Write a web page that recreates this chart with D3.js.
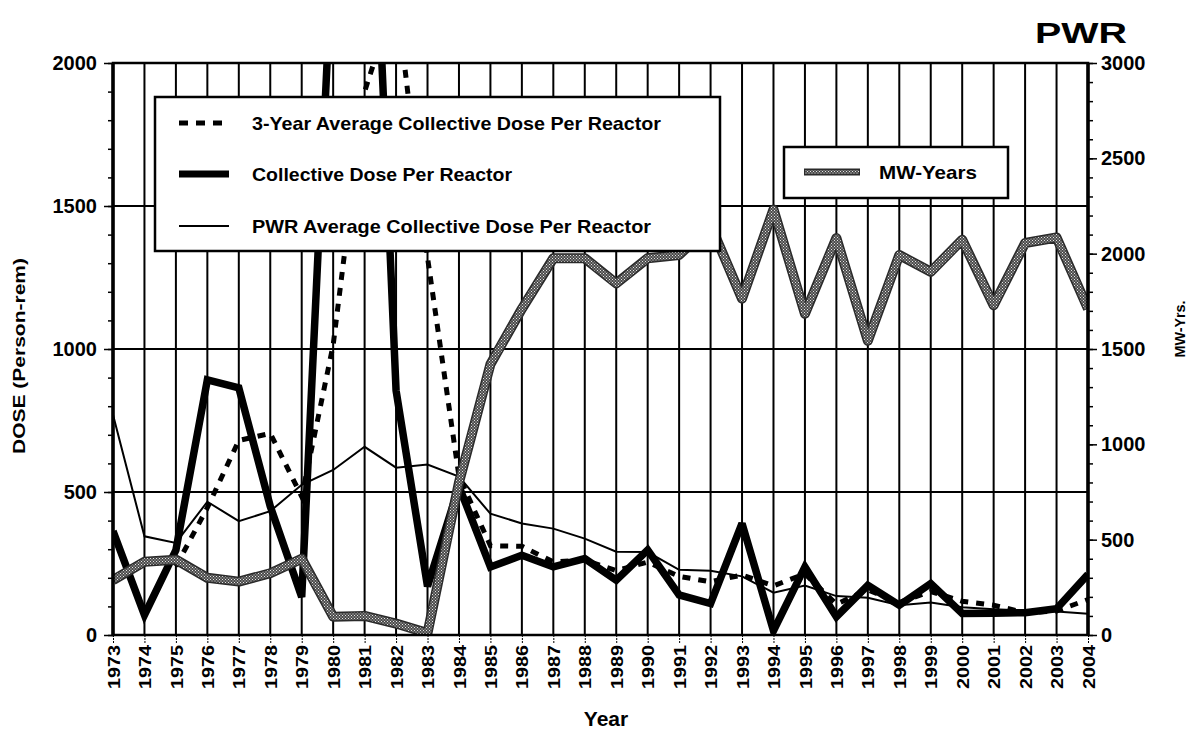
<!DOCTYPE html>
<html>
<head>
<meta charset="utf-8">
<script src="https://cdn.jsdelivr.net/npm/d3@7/dist/d3.min.js"></script>
<style>
  body { margin: 0; background: #fff; }
  svg { display: block; font-family: "Liberation Sans", Arial, Helvetica, sans-serif; font-weight: bold; }
</style>
</head>
<body>
<svg id="chart" width="1197" height="729"></svg>
<script>
// Years on the horizontal axis
const years = [1973, 1974, 1975, 1976, 1977, 1978, 1979, 1980, 1981, 1982, 1983,
  1984, 1985, 1986, 1987, 1988, 1989, 1990, 1991, 1992, 1993, 1994, 1995, 1996,
  1997, 1998, 1999, 2000, 2001, 2002, 2003, 2004];

// Collective dose per reactor (person-rem)
const doseCollective = [363, 70, 297, 892, 864, 450, 133, 2450, 3400, 855, 170,
  520, 238, 279, 238, 267, 192, 297, 140, 110, 390, 15, 238, 64,
  174, 104, 180, 75, 76, 78, 92, 212];

// 3-year average collective dose per reactor (person-rem)
const doseAvg3 = [null, null, 240, 445, 680, 705, 484, 1014, 1900, 2240, 1320,
  555, 312, 310, 256, 262, 225, 255, 205, 186, 210, 172, 214, 108,
  158, 114, 152, 118, 104, 78, 84, 124];

// PWR average collective dose per reactor (person-rem)
const dosePwrAvg = [770, 345, 322, 466, 398, 433, 525, 577, 658, 585, 596,
  554, 424, 390, 372, 337, 291, 290, 228, 225, 205, 148, 173, 136,
  130, 104, 114, 97, 90, 85, 82, 74];

// Electricity generated (MW-years), right axis
const mwYears = [288, 384, 395, 300, 280, 324, 400, 96, 100, 60, 10,
  800, 1420, 1711, 1976, 1976, 1844, 1976, 1993, 2150, 1764, 2232, 1685, 2082,
  1543, 1993, 1905, 2073, 1729, 2056, 2085, 1711];

const doseTicks = [0, 500, 1000, 1500, 2000];
const mwTicks = [0, 500, 1000, 1500, 2000, 2500, 3000];

const svg = d3.select("#chart");
const plotL = 113, plotR = 1088, plotT = 63, plotB = 635;

const x = d3.scalePoint().domain(years).range([plotL, plotR]);
const yDose = d3.scaleLinear().domain([0, 2000]).range([plotB, plotT]);
const yMw = d3.scaleLinear().domain([0, 3000]).range([plotB, plotT]);

const defs = svg.append("defs");
defs.append("clipPath").attr("id", "plotClip")
  .append("rect").attr("x", plotL).attr("y", plotT)
  .attr("width", plotR - plotL).attr("height", plotB - plotT);

// speckled texture used for the MW-years line
const pat = defs.append("pattern").attr("id", "speckle")
  .attr("patternUnits", "userSpaceOnUse").attr("width", 3).attr("height", 3);
pat.append("rect").attr("width", 3).attr("height", 3).attr("fill", "#4a4a4a");
pat.append("rect").attr("x", 0).attr("y", 0).attr("width", 1).attr("height", 1).attr("fill", "#e6e6e6");
pat.append("rect").attr("x", 1.5).attr("y", 1.5).attr("width", 1).attr("height", 1).attr("fill", "#e6e6e6");

// grid: one vertical line per year, horizontal lines at dose majors
const grid = svg.append("g");
grid.selectAll("line.v").data(years).join("line")
  .attr("class", "v")
  .attr("x1", d => x(d)).attr("x2", d => x(d))
  .attr("y1", plotT).attr("y2", plotB)
  .attr("stroke", "#000").attr("stroke-width", 2);
grid.selectAll("line.h").data(doseTicks.filter(d => d > 0 && d < 2000)).join("line")
  .attr("class", "h")
  .attr("x1", plotL).attr("x2", plotR)
  .attr("y1", d => yDose(d)).attr("y2", d => yDose(d))
  .attr("stroke", "#000").attr("stroke-width", 2);

// series
const plot = svg.append("g").attr("clip-path", "url(#plotClip)");
const lineOf = (arr, y) => d3.line()
  .defined((d, i) => arr[i] != null)
  .x((d, i) => x(years[i]))
  .y((d, i) => y(arr[i]));

plot.append("path").datum(doseCollective)
  .attr("d", lineOf(doseCollective, yDose))
  .attr("fill", "none").attr("stroke", "#000").attr("stroke-width", 7.5)
  .attr("stroke-linejoin", "miter").attr("stroke-miterlimit", 3);

plot.append("path").datum(doseAvg3)
  .attr("d", lineOf(doseAvg3, yDose))
  .attr("fill", "none").attr("stroke", "#000").attr("stroke-width", 5)
  .attr("stroke-dasharray", "8,8");

plot.append("path").datum(dosePwrAvg)
  .attr("d", lineOf(dosePwrAvg, yDose))
  .attr("fill", "none").attr("stroke", "#000").attr("stroke-width", 2);

plot.append("path").datum(mwYears)
  .attr("d", lineOf(mwYears, yMw))
  .attr("fill", "none").attr("stroke", "#2a2a2a").attr("stroke-width", 10)
  .attr("stroke-linejoin", "round");
plot.append("path").datum(mwYears)
  .attr("d", lineOf(mwYears, yMw))
  .attr("fill", "none").attr("stroke", "url(#speckle)").attr("stroke-width", 7)
  .attr("stroke-linejoin", "round");

// frame
svg.append("rect").attr("x", plotL).attr("y", plotT)
  .attr("width", plotR - plotL).attr("height", plotB - plotT)
  .attr("fill", "none").attr("stroke", "#000").attr("stroke-width", 2.5);
svg.append("line").attr("x1", plotL).attr("x2", plotL).attr("y1", plotT).attr("y2", plotB)
  .attr("stroke", "#000").attr("stroke-width", 3.5);
svg.append("line").attr("x1", plotR).attr("x2", plotR).attr("y1", plotT).attr("y2", plotB)
  .attr("stroke", "#000").attr("stroke-width", 3.5);

const styleText = sel => sel.attr("font-weight", "bold")
  .attr("font-family", "Liberation Sans, Arial, sans-serif").attr("fill", "#000");
const plain = d3.format("d");

// left axis
const axL = svg.append("g").attr("transform", `translate(${plotL},0)`);
axL.call(d3.axisLeft(yDose).tickValues(d3.range(0, 2001, 100)).tickSize(5).tickFormat(""));
axL.append("g").call(d3.axisLeft(yDose).tickValues(doseTicks).tickFormat(plain).tickSize(9).tickPadding(7));
axL.selectAll("path.domain").remove();
axL.selectAll("line").attr("stroke", "#000").attr("stroke-width", 1.5);
axL.selectAll("text").attr("font-size", 20).call(styleText);

// right axis
const axR = svg.append("g").attr("transform", `translate(${plotR},0)`);
axR.call(d3.axisRight(yMw).tickValues(d3.range(0, 3001, 100)).tickSize(5).tickFormat(""));
axR.append("g").call(d3.axisRight(yMw).tickValues(mwTicks).tickFormat(plain).tickSize(9).tickPadding(4));
axR.selectAll("path.domain").remove();
axR.selectAll("line").attr("stroke", "#000").attr("stroke-width", 1.5);
axR.selectAll("text").attr("font-size", 20).call(styleText);

// bottom axis with rotated year labels
const axB = svg.append("g").attr("transform", `translate(0,${plotB})`);
axB.call(d3.axisBottom(x).tickSize(8).tickPadding(4));
axB.selectAll("path.domain").remove();
axB.selectAll("line").attr("stroke", "#000").attr("stroke-width", 1).attr("stroke-dasharray", "2,1");
axB.selectAll("text")
  .attr("font-size", 17).call(styleText)
  .attr("transform", "rotate(-90)")
  .attr("text-anchor", "end").attr("dy", "0.36em")
  .attr("x", -10).attr("y", 0)
  .attr("textLength", 44).attr("lengthAdjust", "spacingAndGlyphs");

// titles
svg.append("text").attr("x", 606).attr("y", 726).attr("text-anchor", "middle")
  .attr("font-size", 21).text("Year");
svg.append("text").attr("transform", "translate(25,356) rotate(-90)")
  .attr("text-anchor", "middle").attr("font-size", 16)
  .attr("textLength", 196).attr("lengthAdjust", "spacingAndGlyphs")
  .text("DOSE (Person-rem)");
svg.append("text").attr("transform", "translate(1185,329) rotate(-90)")
  .attr("text-anchor", "middle").attr("font-size", 15)
  .attr("textLength", 57).attr("lengthAdjust", "spacingAndGlyphs")
  .text("MW-Yrs.");
svg.append("text").attr("x", 1081).attr("y", 43).attr("text-anchor", "middle")
  .attr("font-size", 30).attr("textLength", 92).attr("lengthAdjust", "spacingAndGlyphs")
  .text("PWR");

// dose legend
const leg = svg.append("g");
leg.append("rect").attr("x", 155).attr("y", 97).attr("width", 565).attr("height", 154)
  .attr("fill", "#fff").attr("stroke", "#000").attr("stroke-width", 2.5);
const legendRows = [
  { label: "3-Year Average Collective Dose Per Reactor", y: 123, w: 5, dash: "9,8", len: 409 },
  { label: "Collective Dose Per Reactor", y: 174, w: 7, dash: null, len: 260 },
  { label: "PWR Average Collective Dose Per Reactor", y: 226, w: 2, dash: null, len: 399 }
];
legendRows.forEach(r => {
  leg.append("line").attr("x1", 179).attr("x2", 229).attr("y1", r.y).attr("y2", r.y)
    .attr("stroke", "#000").attr("stroke-width", r.w)
    .attr("stroke-dasharray", r.dash);
  leg.append("text").attr("x", 252).attr("y", r.y).attr("dy", "0.36em")
    .attr("font-size", 19).attr("textLength", r.len).attr("lengthAdjust", "spacingAndGlyphs")
    .text(r.label);
});

// MW-years legend
const leg2 = svg.append("g");
leg2.append("rect").attr("x", 784).attr("y", 147).attr("width", 224).attr("height", 51)
  .attr("fill", "#fff").attr("stroke", "#000").attr("stroke-width", 2.5);
leg2.append("line").attr("x1", 804).attr("x2", 860).attr("y1", 172).attr("y2", 172)
  .attr("stroke", "#2a2a2a").attr("stroke-width", 7);
leg2.append("line").attr("x1", 805).attr("x2", 859).attr("y1", 172).attr("y2", 172)
  .attr("stroke", "url(#speckle)").attr("stroke-width", 4);
leg2.append("text").attr("x", 879).attr("y", 172).attr("dy", "0.36em")
  .attr("font-size", 19).attr("textLength", 98).attr("lengthAdjust", "spacingAndGlyphs")
  .text("MW-Years");
</script>
</body>
</html>
